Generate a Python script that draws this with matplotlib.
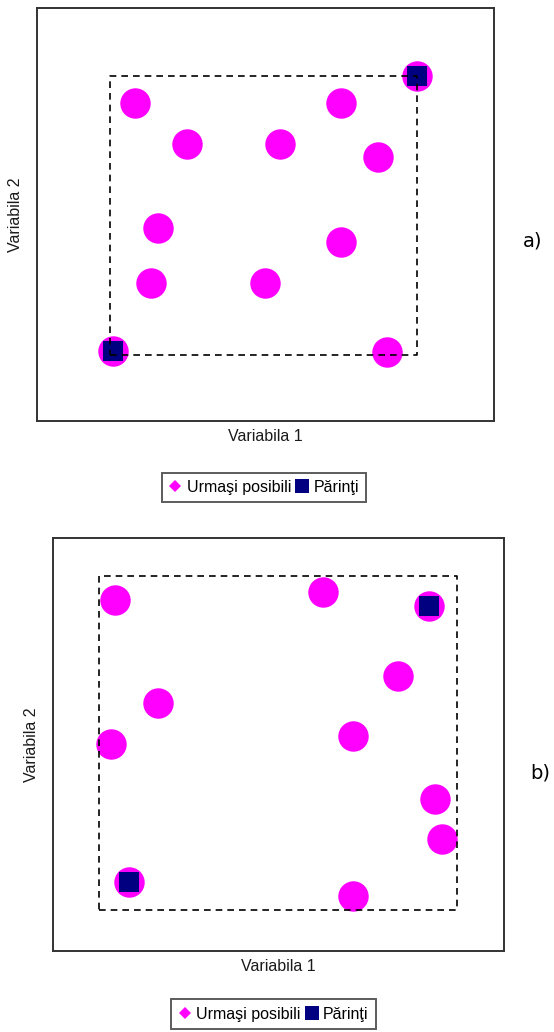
import matplotlib.pyplot as plt
from matplotlib.lines import Line2D

plt.rcParams['font.family'] = ['Liberation Sans', 'DejaVu Sans']

# panel a) - offspring candidates and parents (axes span 0..10)
urmasi_a_x = [2.15, 6.65, 3.28, 5.32, 7.46, 2.65, 6.65, 2.49, 4.99, 1.66, 7.65, 8.31]
urmasi_a_y = [7.69, 7.69, 6.71, 6.71, 6.39, 4.67, 4.33, 3.34, 3.34, 1.69, 1.68, 8.35]
parinti_a_x = [1.66, 8.31]
parinti_a_y = [1.69, 8.35]
box_a = [1.60, 8.32, 1.60, 8.36]  # xmin, xmax, ymin, ymax

# panel b)
urmasi_b_x = [1.37, 5.98, 8.34, 7.66, 2.32, 1.28, 6.66, 8.47, 8.63, 1.68, 6.65]
urmasi_b_y = [8.50, 8.69, 8.35, 6.67, 6.01, 5.01, 5.20, 3.69, 2.70, 1.67, 1.34]
parinti_b_x = [8.34, 1.68]
parinti_b_y = [8.35, 1.67]
box_b = [1.03, 8.96, 0.99, 9.08]

MAGENTA = '#ff00ff'
NAVY = '#000080'
FRAME = '#333333'

W, H = 554, 1032
fig = plt.figure(figsize=(W / 100, H / 100), dpi=100)


def px_rect(left, top, right, bottom):
    return [left / W, 1 - bottom / H, (right - left) / W, (bottom - top) / H]


def draw_panel(ax, ux, uy, px, py, box):
    ax.scatter(ux, uy, s=480, c=MAGENTA, marker='o', linewidths=0, zorder=2)
    ax.scatter(px, py, s=207, c=NAVY, marker='s', linewidths=0, zorder=3)
    x0, x1, y0, y1 = box
    ax.plot([x0, x1, x1, x0, x0], [y0, y0, y1, y1, y0], color='black',
            lw=1.2, linestyle=(0, (4, 3)), zorder=4)
    ax.set_xlim(0, 10)
    ax.set_ylim(0, 10)
    ax.set_xticks([])
    ax.set_yticks([])
    for sp in ax.spines.values():
        sp.set_color(FRAME)
        sp.set_linewidth(1.4)
    ax.set_xlabel('Variabila 1', fontsize=11.5, labelpad=6, color='#1a1a1a')
    ax.set_ylabel('Variabila 2', fontsize=11.5, labelpad=10, color='#1a1a1a')


ax_a = fig.add_axes(px_rect(37, 8, 494, 421))
draw_panel(ax_a, urmasi_a_x, urmasi_a_y, parinti_a_x, parinti_a_y, box_a)
ax_b = fig.add_axes(px_rect(53, 538, 504, 951))
draw_panel(ax_b, urmasi_b_x, urmasi_b_y, parinti_b_x, parinti_b_y, box_b)

fig.text(533 / W, 1 - 241 / H, 'a)', fontsize=14, family='DejaVu Sans',
         ha='center', va='center')
fig.text(540 / W, 1 - 773 / H, 'b)', fontsize=14, family='DejaVu Sans',
         ha='center', va='center')

handles = [
    Line2D([], [], linestyle='none', marker='D', markersize=6,
           markerfacecolor=MAGENTA, markeredgewidth=0),
    Line2D([], [], linestyle='none', marker='s', markersize=10.5,
           markerfacecolor=NAVY, markeredgewidth=0),
]
labels = ['Urmaşi posibili', 'Părinţi']
for cx, cy in [(264, 487.5), (273.5, 1014)]:
    leg = fig.legend(handles, labels, loc='center', ncol=2,
                     bbox_to_anchor=(cx / W, 1 - cy / H),
                     fontsize=11.5, frameon=True, fancybox=False,
                     handlelength=0.8, handletextpad=0.3, columnspacing=0.3,
                     borderpad=0.45, borderaxespad=0)
    leg.get_frame().set_edgecolor(FRAME)
    leg.get_frame().set_linewidth(1.4)

fig.savefig('out.png', dpi=100)
